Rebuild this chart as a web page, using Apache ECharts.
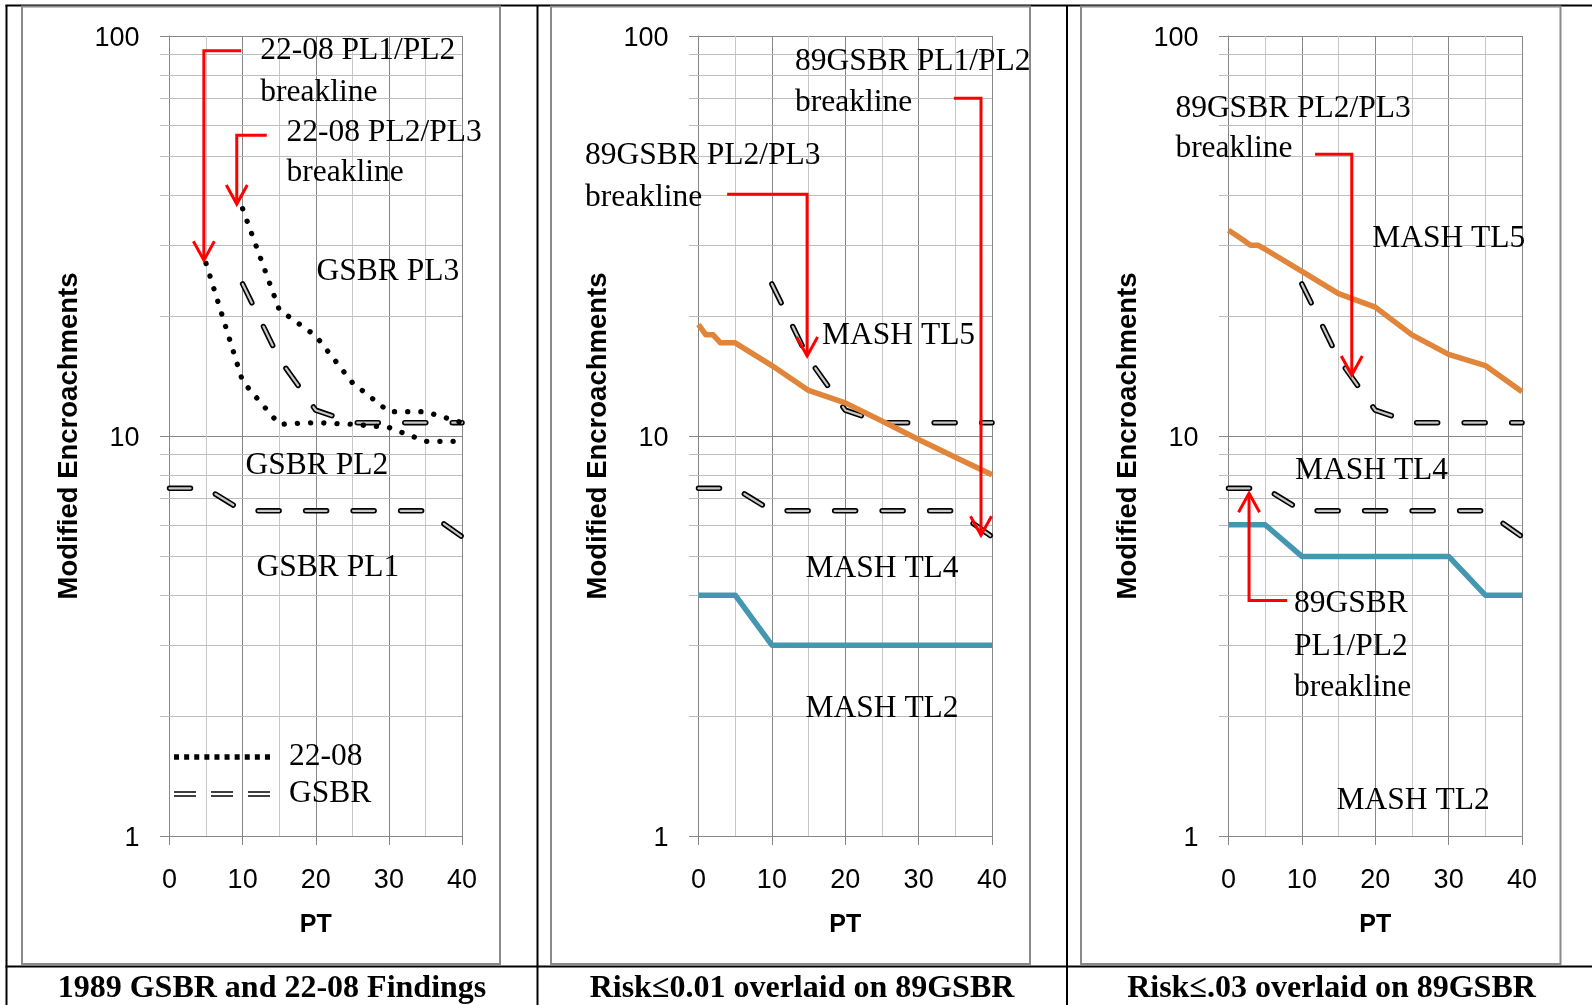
<!DOCTYPE html>
<html>
<head>
<meta charset="utf-8">
<title>Modified Encroachments vs PT</title>
<script src="https://cdn.jsdelivr.net/npm/echarts@6/dist/echarts.min.js"></script>
<style>
  html, body { margin: 0; padding: 0; background: #fff; }
  #chart { width: 1592px; height: 1005px; }
</style>
</head>
<body>
<div id="chart"></div>
<script>
// values (PT on x, modified encroachments on log y)
var gsbrLowX = [0, 5, 10, 35, 40];
var gsbrLowY = [7.4, 7.4, 6.5, 6.5, 5.6];
var gsbrHighX = [10, 15, 20, 25, 40];
var gsbrHighY = [24, 15.6, 11.6, 10.8, 10.8];
var r2208LowX = [5, 10, 15, 20, 25, 30, 35, 40];
var r2208LowY = [27, 13.7, 10.7, 10.8, 10.7, 10.5, 9.7, 9.7];
var r2208HighX = [10, 15, 20, 25, 30, 35, 40];
var r2208HighY = [37, 20.7, 17.8, 13.6, 11.5, 11.5, 10.8];
var mashX = [0, 1, 2, 3, 4, 5, 10, 15, 20, 25, 30, 35, 40];
var tl5Risk01 = [19.0, 17.9, 17.9, 17.1, 17.1, 17.1, 15.0, 13.0, 12.1, 10.9, 9.8, 8.85, 8.0];
var tl5Risk03 = [32.7, 31.8, 30.9, 30.0, 30.0, 29.3, 25.8, 22.7, 21.0, 17.9, 16.0, 15.0, 12.9];
var tl2X = [0, 5, 10, 30, 35, 40];
var tl2Risk01 = [4, 4, 3, 3, 3, 3];
var tl2Risk03 = [6, 6, 5, 5, 4, 4];

var xMin = 0, xMax = 40, xStep = 10;
var yMinorGrid = [2, 3, 4, 5, 6, 7, 8, 9, 20, 30, 40, 50, 60, 70, 80, 90];

var captions = ['1989 GSBR and 22-08 Findings', 'Risk\u22640.01 overlaid on 89GSBR', 'Risk\u2264.03 overlaid on 89GSBR'];

// annotations: [text, x, y] in data units, arrows as data-unit paths ending at the tip
var notes = [
  [['22-08 PL1/PL2', 12.4, 93.6], ['breakline', 12.4, 73.5], ['22-08 PL2/PL3', 16.0, 58.2],
   ['breakline', 16.0, 46.4], ['GSBR PL3', 20.1, 26.2], ['GSBR PL2', 10.4, 8.55], ['GSBR PL1', 11.9, 4.77]],
  [['89GSBR PL1/PL2', 13.15, 87.9], ['breakline', 13.15, 69.4], ['89GSBR PL2/PL3', -15.47, 51.1],
   ['breakline', -15.47, 40.2], ['MASH TL5', 16.83, 18.15], ['MASH TL4', 14.58, 4.75], ['MASH TL2', 14.58, 2.116]],
  [['89GSBR PL2/PL3', -7.24, 66.9], ['breakline', -7.24, 53.1], ['MASH TL5', 19.58, 31.7],
   ['MASH TL4', 9.06, 8.34], ['89GSBR', 8.93, 3.87], ['PL1/PL2', 8.93, 3.03], ['breakline', 8.93, 2.39],
   ['MASH TL2', 14.73, 1.248]]
];
var arrows = [
  [[[9.8, 91.9], [4.7, 91.9], [4.7, 27.5]], [[13.3, 56.5], [9.2, 56.5], [9.2, 38.0]]],
  [[[34.8, 69.9], [38.5, 69.9], [38.5, 5.65]], [[3.9, 40.2], [14.8, 40.2], [14.8, 15.85]]],
  [[[11.8, 50.6], [16.8, 50.6], [16.8, 14.2]], [[8.0, 3.88], [2.8, 3.88], [2.8, 7.19]]]
];

var panelLeft = [169.5, 698.5, 1228.5];
var panelWidth = [292.5, 293.5, 293.5];
var majorGrid = '#878787';
var sans = 'Liberation Sans', serif = 'Liberation Serif';
var textNudge = 3;

function pairs(xs, ys) {
  return xs.map(function (x, i) { return [x, ys[i]]; });
}

var dashPattern = [21, 26.5];
function lineSeries(i, name, xs, ys, style, z) {
  return {
    name: name, type: 'line', xAxisIndex: i, yAxisIndex: i,
    data: pairs(xs, ys), symbol: 'none', silent: true, z: z,
    itemStyle: { color: style.color },
    lineStyle: style
  };
}
function gsbr(i, xs, ys) {
  return [
    lineSeries(i, 'GSBR', xs, ys, { color: '#000', width: 5.5, type: dashPattern, cap: 'round', join: 'round' }, 3),
    lineSeries(i, 'GSBR fill', xs, ys, { color: '#c8c8c8', width: 2.2, type: dashPattern, cap: 'round', join: 'round' }, 4)
  ];
}
function dotted(i, xs, ys) {
  return lineSeries(i, '22-08', xs, ys, { color: '#000', width: 5.3, type: [0.1, 13.1], cap: 'round', join: 'round' }, 5);
}
function solid(i, name, xs, ys, color) {
  return lineSeries(i, name, xs, ys, { color: color, width: 5.5, type: 'solid', cap: 'butt', join: 'round' }, 6);
}
function minorGrid(i) {
  return {
    type: 'custom', xAxisIndex: i, yAxisIndex: i, silent: true, clip: false, z: 1,
    data: yMinorGrid.map(function (v) { return [xMin, v]; }),
    renderItem: function (params, api) {
      var a = api.coord([xMin, api.value(1)]);
      var b = api.coord([xMax, api.value(1)]);
      var y = Math.round(a[1]) + 0.5;
      return { type: 'line', shape: { x1: a[0] - 9.5, y1: y, x2: b[0], y2: y },
               style: { stroke: '#bdbdbd', lineWidth: 1 } };
    }
  };
}

var grids = [], xAxes = [], yAxes = [], series = [];
for (var i = 0; i < 3; i++) {
  grids.push({ left: panelLeft[i], top: 36, width: panelWidth[i], height: 800 });
  xAxes.push({
    gridIndex: i, type: 'value', min: xMin, max: xMax, interval: xStep,
    name: 'PT', nameLocation: 'middle', nameGap: 76,
    nameTextStyle: { fontFamily: sans, fontSize: 25, fontWeight: 'bold', color: '#000', lineHeight: 26 },
    axisLine: { show: true, lineStyle: { color: majorGrid, width: 1 } },
    axisTick: { show: true, inside: false, length: 9, lineStyle: { color: majorGrid } },
    axisLabel: { margin: 31, fontFamily: sans, fontSize: 27, color: '#000', lineHeight: 27 },
    splitLine: { show: true, lineStyle: { color: majorGrid, width: 1 } },
    minorTick: { show: false, splitNumber: 2 },
    minorSplitLine: { show: true, lineStyle: { color: '#c8c8c8', width: 1 } }
  });
  yAxes.push({
    gridIndex: i, type: 'log', logBase: 10, min: 1, max: 100,
    name: 'Modified Encroachments', nameLocation: 'middle', nameGap: 86, nameRotate: 90,
    nameTextStyle: { fontFamily: sans, fontSize: 27.5, fontWeight: 'bold', color: '#000', lineHeight: 28 },
    axisLine: { show: true, lineStyle: { color: majorGrid, width: 1 } },
    axisTick: { show: true, inside: false, length: 9.5, lineStyle: { color: majorGrid } },
    axisLabel: { margin: 30, fontFamily: sans, fontSize: 27, color: '#000', verticalAlign: 'top', lineHeight: 6 },
    splitLine: { show: true, lineStyle: { color: majorGrid, width: 1 } }
  });
  series.push(minorGrid(i));
  series = series.concat(gsbr(i, gsbrLowX, gsbrLowY), gsbr(i, gsbrHighX, gsbrHighY));
}
series.push(dotted(0, r2208LowX, r2208LowY), dotted(0, r2208HighX, r2208HighY));
series.push(solid(1, 'MASH TL5', mashX, tl5Risk01, '#e0853a'), solid(1, 'MASH TL2', tl2X, tl2Risk01, '#4397b0'));
series.push(solid(2, 'MASH TL5', mashX, tl5Risk03, '#e0853a'), solid(2, 'MASH TL2', tl2X, tl2Risk03, '#4397b0'));

// legend icons: square dots and hollow double dashes
var dotIcon = 'path://';
for (var k = 0; k < 10; k++) dotIcon += 'M' + (k * 10.1) + ',0h5v5.5h-5z';
var dashIcon = 'path://';
for (k = 0; k < 3; k++) dashIcon += 'M' + (k * 37) + ',0h22v1.6h-22zM' + (k * 37) + ',3.9h22v1.6h-22z';

var option = {
  animation: false,
  backgroundColor: '#fff',
  grid: grids, xAxis: xAxes, yAxis: yAxes, series: series,
  legend: {
    left: 174, top: 737, padding: 0, orient: 'vertical', itemWidth: 96, itemHeight: 5.5, itemGap: 0,
    selectedMode: false,
    textStyle: { fontFamily: serif, fontSize: 31.5, color: '#000', lineHeight: 28, padding: [0, 0, 6, 14] },
    data: [
      { name: '22-08', icon: dotIcon, itemStyle: { color: '#000', borderWidth: 0 },
        textStyle: { padding: [0, 0, 12, 14] } },
      { name: 'GSBR', icon: dashIcon, itemStyle: { color: '#000', borderWidth: 0 } }
    ]
  }
};

var chart = echarts.init(document.getElementById('chart'));
chart.setOption(option);

function arrowHead(a, b) {
  var dx = b[0] - a[0], dy = b[1] - a[1], len = Math.sqrt(dx * dx + dy * dy);
  var ux = dx / len, uy = dy / len, back = 19, half = 10.5;
  return [[b[0] - ux * back - uy * half, b[1] - uy * back + ux * half], b,
          [b[0] - ux * back + uy * half, b[1] - uy * back - ux * half]];
}

var els = [];
// table lines and chart-area frames
var blackLines = [[6.5, 5, 6.5, 1005], [537.5, 5, 537.5, 1005], [1067, 5, 1067, 1005],
                  [5.5, 5.5, 1592, 5.5], [5.5, 966.5, 1592, 966.5]];
blackLines.forEach(function (l) {
  els.push({ type: 'line', shape: { x1: l[0], y1: l[1], x2: l[2], y2: l[3] },
             style: { stroke: '#000', lineWidth: 2 }, silent: true, z: 0 });
});
var frames = [[22, 6.5, 478, 957.5], [551, 6.5, 479, 957.5], [1081, 6.5, 479.5, 957.5]];
frames.forEach(function (f) {
  els.push({ type: 'rect', shape: { x: f[0], y: f[1], width: f[2], height: f[3] },
             style: { stroke: '#8a8a8a', lineWidth: 2, fill: null }, silent: true, z: 1 });
});
var captionX = [272, 802, 1331.5];
captions.forEach(function (c, j) {
  els.push({ type: 'text', x: captionX[j], y: 989, silent: true, z: 2,
             style: { text: c, fill: '#000', font: 'bold 32px "Liberation Serif"', align: 'center', verticalAlign: 'middle' } });
});

for (i = 0; i < 3; i++) {
  notes[i].forEach(function (n) {
    var p = chart.convertToPixel({ gridIndex: i }, [n[1], n[2]]);
    els.push({ type: 'text', x: p[0], y: p[1] + textNudge, silent: true, z: 100,
               style: { text: n[0], fill: '#000', font: '31.5px "Liberation Serif"', align: 'left', verticalAlign: 'middle' } });
  });
  arrows[i].forEach(function (path) {
    var pts = path.map(function (p) { return chart.convertToPixel({ gridIndex: i }, p); });
    els.push({ type: 'polyline', shape: { points: pts }, silent: true, z: 101,
               style: { stroke: '#ff0000', lineWidth: 3, fill: null, lineJoin: 'miter' } });
    els.push({ type: 'polyline', shape: { points: arrowHead(pts[pts.length - 2], pts[pts.length - 1]) }, silent: true, z: 101,
               style: { stroke: '#ff0000', lineWidth: 3, fill: null, lineJoin: 'miter' } });
  });
}
chart.setOption({ graphic: { elements: els } });
</script>
</body>
</html>
